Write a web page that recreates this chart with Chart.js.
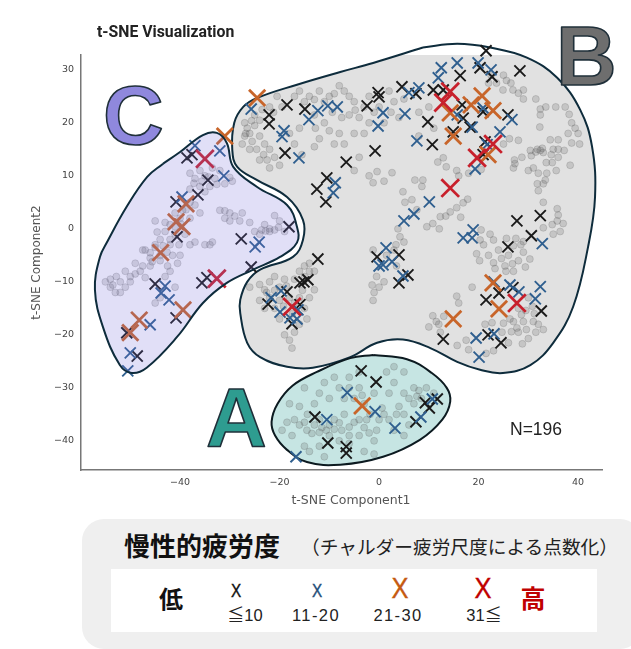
<!DOCTYPE html>
<html lang="ja">
<head>
<meta charset="utf-8">
<title>t-SNE Visualization</title>
<script src="https://cdn.jsdelivr.net/npm/chart.js@4"></script>
<style>
  html, body { margin: 0; padding: 0; background: #fff; }
  #wrap { position: relative; width: 631px; height: 649px; overflow: hidden; }
  #wrap > div { position: absolute; white-space: nowrap; }
  canvas { position: absolute; left: 0; top: 0; }
  .t { transform: translate(-50%, -50%); font-family: "Liberation Sans", sans-serif; }
  .mark { transform: translate(-50%, -50%) scaleX(0.85); font-family: "Liberation Sans", sans-serif; -webkit-text-stroke: 0.4px currentColor; line-height: 1; }
  .jp { font-family: "Noto Sans CJK JP", sans-serif; }
  .le { font-family: "Noto Sans CJK JP", sans-serif; font-size: 17px; }
</style>
</head>
<body>
<div id="wrap">
  <canvas id="c" width="631" height="649"></canvas>
  <div style="left:97px;top:22px;font:700 15.8px/20px Roboto,sans-serif;color:#222">t-SNE Visualization</div>
  <div style="left:82px;top:519px;width:560px;height:130px;background:#efefef;border-radius:22px"></div>
  <div style="left:111px;top:569px;width:486px;height:63px;background:#fff"></div>
  <div class="jp" style="left:124px;top:526px;font-size:26px;font-weight:700;line-height:38px;color:#111">慢性的疲労度</div>
  <div class="jp" style="left:301px;top:533px;font-size:18.7px;line-height:26px;color:#222">（チャルダー疲労尺度による点数化）</div>
  <div class="t jp" style="left:171px;top:597px;font-size:24px;font-weight:700;color:#111">低</div>
  <div class="t jp" style="left:533px;top:597px;font-size:25px;font-weight:700;color:#c00000">高</div>
  <div class="mark" style="left:235.5px;top:591px;font-size:18px;color:#111">X</div>
  <div class="mark" style="left:317px;top:591px;font-size:18px;color:#1f4e79">X</div>
  <div class="mark" style="left:400px;top:588px;font-size:30px;color:#c55a11">X</div>
  <div class="mark" style="left:482.5px;top:588px;font-size:30px;color:#c00000">X</div>
  <div class="t" style="left:245px;top:613px;font-size:16.5px;color:#222"><span class="le">≦</span>10</div>
  <div class="t" style="left:316px;top:615px;font-size:16.5px;letter-spacing:1.4px;color:#222">11-20</div>
  <div class="t" style="left:398px;top:615px;font-size:16.5px;letter-spacing:1.4px;color:#222">21-30</div>
  <div class="t" style="left:484px;top:613px;font-size:16.5px;color:#222">31<span class="le">≦</span></div>
</div>
<script>
const xTicks = [-40, -20, 0, 20, 40];
const yTicks = [-40, -30, -20, -10, 0, 10, 20, 30];

// chronic fatigue score groups
const black = [[-18.5,23.4],[-14.9,22.6],[-22.1,21.5],[-22.1,19.8],[-18.9,14.3],[-6.6,12.6],[-10.5,9.6],[-12.5,7.5],[-10.7,5.1],[-18.1,0.4],[-27.7,-1.9],[-34.4,9.2],[-36.4,6.4],[-40.8,5.1],[-40.6,-1.5],[-38.6,13.4],[-37.6,14],[-45,-10.4],[-35.6,-10.2],[-34.6,-9.2],[-40.8,-16.8],[-50.7,-19.6],[-48.6,-24],[-25.7,-7.2],[-12.3,-5.7],[-14.3,-9.6],[-15.9,-10.2],[-15.1,-10],[-18.5,-11.9],[-22.3,-14.2],[-15.9,-14.3],[-17.5,-17.9],[-12.9,-35.5],[-10.3,-40.4],[-6.6,-41.1],[-6.6,-42.3],[21.5,33.6],[20.3,30.4],[16.3,28.9],[22.7,28.7],[28.3,29.8],[4.6,26.8],[-0.2,25.7],[0,24.9],[-2.4,23.2],[7.4,25.5],[10.9,26.2],[12.9,26.2],[16.7,23.4],[20.9,22.1],[25.9,21.5],[9.8,20.2],[16.9,20.9],[18.3,19.2],[14.9,18.3],[10.7,15.9],[-0.8,14.7],[21.3,16.4],[20.9,14],[27.7,1.5],[32.4,2.5],[30.6,-1.3],[25.9,-3.4],[-0.4,-5.3],[4,-4.9],[5.8,-8.7],[4,-10.2],[21.5,-13.4],[24.1,-12.1],[26.9,-11.1],[32.6,-15.5],[21.9,-20],[24.5,-21.5],[12.9,-20.8],[-3.6,-26.8],[-0.6,-28.9],[9.3,-32.8],[10.1,-33.8],[11.7,-32.1],[7.4,-36.4]];
const blue = [[-25.7,22.6],[-8.4,23],[-10.3,23.2],[-12.3,22.3],[-14.1,20.6],[-19.1,18.5],[-19.5,17.4],[-16.1,13.4],[-8.8,8.7],[-9.2,6.8],[-31.2,10],[-32,14.7],[-37,15.7],[-39.6,6],[-24.1,-2.5],[-24.9,-3.4],[-43,-10.8],[-43.8,-12.1],[-42.2,-13.4],[-46,-18.1],[-50,-23.4],[-50.5,-26.8],[-19.7,-11.7],[-21.7,-13],[-19.9,-15.7],[-16.3,-15.3],[-16.5,-17],[-17.9,-16.8],[-16.7,-43],[-10.5,-36],[-6.4,-30.9],[12.5,30.4],[15.7,31.3],[11.9,28.5],[19.9,31.3],[22.5,30],[8,26.6],[6,25.7],[0.8,21.9],[-0.2,19.4],[5.2,21.7],[7.6,16.6],[26.7,20.6],[24.3,18.3],[20.9,22.8],[18.7,19.2],[15.7,21.5],[21.7,15.9],[19.3,11.3],[10.1,5.1],[7,2.8],[5,1.5],[18.9,-0.2],[16.9,-1.7],[18.7,-1.7],[32.8,-2.8],[1.4,-3.6],[0,-7],[0.8,-6.8],[2.6,-6.2],[4.8,-8.9],[23.1,-10],[26.3,-10.6],[28.1,-11.9],[31.4,-13.2],[32.4,-10.9],[19.5,-20.6],[23.1,-19.8],[20.1,-24.2],[-0.8,-34.5],[3.2,-37.6],[8.4,-35.5],[10.7,-32.1]];
const orange = [[-24.5,24.7],[-31,17.5],[-38.8,4.7],[-40.8,1.3],[-39.6,0.4],[-43.9,-4.5],[-48.2,-17.2],[-50,-19.6],[-39.4,-15.3],[14.3,21.9],[18.5,23.4],[20.7,25.1],[22.9,22.3],[14.9,17.5],[21.9,14],[22.9,-10.2],[24.1,-15.1],[14.9,-17],[-3.4,-33.4]];
const red = [[-35,13.2],[-32.6,-9.4],[-17.5,-14.7],[14.3,25.9],[12.9,23.8],[22.9,16],[19.7,13.4],[14.3,7.7],[27.7,-14]];

// all participants, faint background points
const others = [
  [-38,10.5],[-37,9.5],[-36,11],[-35,10],[-34,8],[-33,9.5],[-32,11],[-31,8.5],[-30,9.7],[-29.5,9],[-36,8],[-38,7.5],[-33.5,11.5],[-35,7],[-37.2,8.6],[-35.6,9],[-34.3,9.8],[-32.6,8.4],
  [-38,5],[-39.5,3.5],[-41,3],[-40,2],[-42,0.8],[-43,-0.5],[-41,-1],[-44,-2],[-45,1.5],[-43,1.2],[-42,-2],[-39,-1],[-38,2],[-37,4.5],[-36,3],[-45,-3],[-47,-4],[-46,-5.5],[-44,-6],[-44.6,-0.6],[-43.4,-3.2],[-42.6,-4.4],[-41,0.4],[-39.8,0.9],[-38.8,3.6],[-40.2,-3],
  [-47.5,-4],[-46,-4.5],[-45,-3.5],[-44,-5],[-47.5,-7],[-49,-8.5],[-50,-9],[-51,-8],[-52,-10],[-54,-9.5],[-55,-10],[-54,-11],[-53,-12],[-52,-12],[-50,-10],[-46,-7],[-49,-6.5],[-42,-3],[-41.5,-5],[-40,-5],[-42,-8],[-43,-9],[-42.5,-7],[-40.5,-6.5],[-38,-3],[-37,-2.5],[-35,-3],[-34,-3],[-33.5,-2.5],[-45,-14],[-44,-13],[-41,-11],[-53.5,-10.6],[-52.8,-9],[-51,-11],[-48,-8],[-47,-9.2],[-45.6,-6.2],
  [-32,3.5],[-31,2],[-30,1.5],[-29,2.4],[-28,1.5],[-27.5,3],[-26,1.2],[-25,-0.5],[-24,-1],[-23,0.8],[-22,0],[-21,-0.2],[-20,1.5],[-21,2.5],[-22,-0.5],[-19,-0.5],[-30,3],[-22.8,-0.4],[-20.2,0.3],[-23.6,-0.2],[-31,3.4],
  [-27,20],[-26.5,19],[-27,17.5],[-26,18],[-25,19.5],[-25.5,16.5],[-26,15],[-24,17.5],[-24,20.5],[-23,16],[-22,15],[-22.5,13],[-21,13.5],[-20,12],[-22,11.5],[-24,13],[-25,21.5],[-23.5,22.5],[-22,23],[-20.5,25],[-19.5,23],[-17,25],[-16,26],[-14,25],[-12,26],[-10,25],[-9,25.5],[-8,27],[-7,26],[-6,25],[-5,24],[-3,23],[-13,21.5],[-11,20],[-10,18.5],[-12,17],[-13,15.5],[-8,18],[-7,16],[-5,18],[-15.5,14],[-17,16],[-18,18],[-16,19],[-4,21],[-3,18],[-6,21.5],[-1,22],[1,20],[-2,25],[3,24],[2,26],[5,24.5],[-4,13.5],[-5,11],[-2,10],[-26.8,18],[-25.6,20.4],[-27.5,16],[-24.6,15],[-23.2,14],[-21.2,22],[-15,24],[-13,24.4],[-11,24],[-9.4,22],[-7.5,21],[-4.8,22.4],[-2,20],[0,23],[-12.8,19],[-9,16],[2.4,22],[4,21],[8,22],[10,23],[11,19],[8,17.5],
  [-1.2,8.7],[-0.4,10.8],[1,9],[2.6,10.6],[4.8,7],[7.2,9.2],[8.8,9.2],[8.6,8],[6.6,5.5],[12.3,2.3],[14.3,3.2],[16.9,4.9],[17.8,5.6],[9.6,0.4],[12.1,0],[4.2,-1.5],[5,-2.5],[3.4,-3],[-1.2,-4],[12.9,13.4],[11.8,12.6],[13.5,11.7],[15.6,11],[16,10],[18,10.5],[20.5,11.2],[5.2,5],[7.6,3.6],[10.8,1],[13.4,2.4],[15.6,4],[3.8,0],[16.4,2.2],
  [22.5,29],[22,27.5],[24.9,26.2],[26.9,26.2],[29,26.2],[26.5,27.5],[25.6,28],[29,24.5],[31.5,24.5],[33.5,23],[35.5,23],[32.4,21.5],[32.3,19.2],[37.4,23],[38.7,20],[40,18],[40.3,16],[38,18],[36,16.8],[34.4,16.8],[38.7,16.2],[37.2,14.8],[36,13.5],[34.8,12.5],[33.7,10.5],[33.6,12.5],[32.4,14.8],[31.5,14.5],[30.4,14.8],[28.7,13.5],[28,16.7],[26.2,17],[27.3,12.3],[30,11],[31,11.5],[32,10.5],[33,8.5],[31.8,8.5],[32,7.2],[38.4,12],[31.8,15],[32.8,15.2],[35,15],[35.6,11],[27,11.5],[23.6,27.5],[25,29],[28,25.6],[32.4,22.6],[38.2,21.6],[39.4,19],[33,14.4],[30.6,13.8],[33.4,9.2],[34.6,14],[36,15],[27.2,13],[25,16],
  [33,5],[35.8,3.8],[35.8,1.5],[37,1],[36.4,-0.5],[35,-1],[33,0.2],[20.5,-0.2],[22.3,-1],[25.6,-1.8],[27.5,-1.8],[21,-3],[27,-3.2],[34.8,0.8],[36,2.6],[29,-2.4],
  [20.3,-2.1],[23,-2.1],[28.5,-3],[29,-4.4],[30.3,-5.7],[28,-6],[25.3,-7],[19.6,-4.7],[20.2,-6],[26,-5],[27,-8],[22,-5],[24,-4],[24.6,-5.6],[26.8,-6.6],[29.4,-7.2],[23,-6.4],
  [18.7,-11],[15.6,-12.7],[16,-14],[13,-16.5],[10,-18.5],[11.5,-17.5],[12.3,-19.5],[15.7,-22],[17.5,-21],[18,-22.8],[21.3,-18],[22.7,-17.7],[24.7,-19.5],[26,-21.5],[27,-17.5],[29,-17.5],[31,-17.5],[33,-19],[31.5,-19.5],[30,-20.7],[28.8,-21.7],[27.7,-18.7],[21.5,-23.5],[23,-23],[29.5,-15.4],[31.2,-16],[26.3,-17],[23.3,-7.5],[25.5,-8],[28,-15],[30,-13],[28,-19.5],[26.6,-19.4],[29.6,-19],[32,-18],[25,-17.8],[28.6,-16.2],[30.8,-14.6],[12,-18],[10.8,-16.4],
  [-14,-6.5],[-15,-7],[-16,-8],[-14,-8],[-13,-8],[-15,-9],[-17,-9.5],[-19,-9.5],[-21,-9],[-22,-10],[-24,-10.5],[-26,-11],[-23,-11.5],[-20,-11],[-22,-13],[-24,-13.5],[-23,-15],[-21,-15],[-20,-13.5],[-18,-13],[-17,-14],[-16,-13],[-15,-15],[-14.5,-17],[-16,-18],[-17,-19.5],[-18,-21],[-17.5,-22.5],[-19,-20],[-14,-13],[-13,-11.5],[-21,-11.6],[-18.6,-10.8],[-22.6,-12],[-19.2,-14.6],[-17.4,-16],[-20,-17],[-15.4,-11.6],
  [-0.5,-9],[1,-10],[0,-11],[1.5,-5],[3,-4],[-1,-12],[-1.2,-13.5],[-1.4,-10.6],[3.5,-7],
  [-19.5,-38],[-18.5,-36.5],[-17,-36],[-16,-37],[-14.5,-38],[-15,-36.5],[-13,-37],[-12,-36],[-11.5,-37.5],[-10,-37],[-9,-36],[-7.5,-38],[-6,-39],[-4,-39],[-3,-37.5],[-2,-38.5],[-1,-40],[-0.5,-38],[-5,-36.5],[-7,-35],[-18,-33],[-13,-33],[-12,-31],[-10,-32],[-8,-30],[-9,-28],[-6,-28],[-4,-30],[-5,-32],[-3,-33],[-1,-31],[-7,-32],[-14,-42],[-15,-41],[-12,-41],[-10,-39],[-16,-33.5],[-17.5,-39],[1.5,-27],[3,-26],[5,-27],[3,-29],[2,-31],[5,-31],[6,-32],[7,-30],[8,-30.5],[8.5,-32],[7,-33],[4,-33.5],[1,-35],[2,-36],[3.5,-35],[5,-35],[6,-37],[3,-38],[0,-36],[-2.5,-36],[-3,-42],[5,-39],[-1,-42.5],[-6,-40.5],[-8,-40],[-11,-43],[9.5,-30],[11,-31],[-4,-27],[-11,-29],[-15,-30],[-13.5,-38.6],[-12,-38.4],[-10.6,-38],[-9,-37.8],[-8,-36.6],[-6,-37.4],[-4,-36],[-14.4,-35],[-1.8,-35],[0.6,-33.8],[7.6,-31.6],[-3.4,-31.4],[-6,-30]
];

// hand drawn cluster outlines, in axis units
const regionA = [[-1.2,-23.8],[5.6,-24.6],[10.6,-27.2],[13.6,-30],[14.3,-32.6],[12.7,-36],[8.2,-39.8],[0.8,-43],[-7.8,-44.5],[-14.5,-44],[-18.5,-41.7],[-20.9,-39],[-21.6,-36.4],[-20.4,-33],[-17.4,-29.6],[-12.5,-27],[-5.8,-24.4],[-1.2,-23.8]];
const regionB = [[8.8,34.2],[15.7,34.9],[22.3,34.2],[29.7,32.3],[35.8,28.5],[40.4,22.5],[42.8,15.5],[43.4,6],[42,-3.4],[39,-14.7],[35,-21.5],[30.4,-25.7],[24.9,-27.2],[20.3,-26.6],[15.7,-25.1],[10.3,-22.5],[4.8,-20.9],[-0.4,-21.5],[-5.8,-24.2],[-13.3,-26.2],[-18.5,-26],[-23.9,-24.2],[-26.5,-21.5],[-27.9,-15.9],[-27.9,-13.4],[-26.5,-10],[-23.9,-7.7],[-17.3,-5.3],[-15.3,-2.1],[-15.3,1.7],[-18.5,6],[-24.5,9.2],[-28.5,11.7],[-29.5,14.9],[-29.1,20],[-27.3,23],[-24.5,24.7],[-16.5,27.2],[-7.8,29.6],[-1.2,31.3],[8.8,34.2]];
const regionC = [[-43.4,12.3],[-40,14.5],[-35.4,17.7],[-32.6,18.1],[-30.6,16.2],[-29.3,11.7],[-24.5,7.9],[-18.5,4.5],[-16.5,0.4],[-16.5,-2.6],[-19.9,-5.3],[-25.3,-7.7],[-30.6,-10.2],[-35.4,-14],[-40.6,-20.4],[-46.7,-26.2],[-49.7,-27.2],[-52.1,-25.7],[-55.5,-18.5],[-57.1,-11.5],[-56.1,-5.3],[-54.6,-2.4],[-50.7,4.2],[-46.6,9.8],[-43.4,12.3]];

const toXY = pts => pts.map(p => ({ x: p[0], y: p[1] }));

function crossSet(pts, color, radius, width, order) {
    return {
        data: toXY(pts),
        pointStyle: 'crossRot',
        pointRadius: radius,
        pointBorderColor: color,
        pointBorderWidth: width,
        showLine: false,
        clip: false,
        order: order
    };
}

function regionSet(pts, fill, stroke, order) {
    return {
        type: 'line',
        data: toXY(pts),
        fill: 'shape',
        backgroundColor: fill,
        borderColor: stroke,
        borderWidth: 2,
        tension: 0.4,
        capBezierPoints: false,
        pointRadius: 0,
        clip: false,
        order: order
    };
}

// big cluster letters, N and the x axis caption
const overlay = {
    id: 'overlay',
    afterDatasetsDraw(chart) {
        const ctx = chart.ctx;
        ctx.save();
        ctx.textBaseline = 'alphabetic';
        ctx.textAlign = 'left';
        ctx.lineJoin = 'round';
        ctx.font = 'bold 84px "Liberation Sans"';
        ctx.lineWidth = 1.6;
        ctx.strokeStyle = '#20303a';
        [['A', 206, 447, '#2e9c90'], ['B', 556, 85, '#6e6e6e'], ['C', 103, 144, '#8f88dd']].forEach(l => {
            ctx.fillStyle = l[3];
            ctx.fillText(l[0], l[1], l[2]);
            ctx.strokeText(l[0], l[1], l[2]);
        });
        ctx.font = '17.5px "Liberation Sans"';
        ctx.fillStyle = '#222';
        ctx.fillText('N=196', 510, 435);
        ctx.font = '12.5px "DejaVu Sans"';
        ctx.fillStyle = '#555';
        ctx.textAlign = 'center';
        ctx.fillText('t-SNE Component1', 351, 504);
        ctx.restore();
    }
};

new Chart(document.getElementById('c'), {
    type: 'scatter',
    data: {
        datasets: [
            // the lavender patch lies over its own marks in the original
            regionSet(regionC, 'rgba(120,110,220,0.22)', '#0e2c3c', -1),
            crossSet(red, '#c8202c', 12.5, 2.8, 0),
            crossSet(orange, '#c8652a', 11.5, 2.8, 1),
            crossSet(blue, '#2f5f8f', 7.8, 1.9, 2),
            crossSet(black, '#1a1a1a', 7.8, 1.9, 3),
            {
                data: toXY(others),
                pointRadius: 3.5,
                pointBackgroundColor: 'rgba(85,85,85,0.2)',
                pointBorderColor: 'rgba(85,85,85,0.2)',
                pointBorderWidth: 1,
                showLine: false,
                order: 4
            },
            regionSet(regionA, '#c6e5e3', '#0c1a20', 5),
            regionSet(regionB, '#e1e1e1', '#0e2c3c', 7)
        ]
    },
    options: {
        responsive: false,
        animation: false,
        layout: { padding: { left: 30, right: 29, top: 55, bottom: 139 } },
        plugins: { legend: { display: false }, tooltip: { enabled: false } },
        scales: {
            x: {
                type: 'linear',
                min: -59.9,
                max: 44.8,
                grid: { display: false, tickLength: 4, tickColor: '#777' },
                border: { color: '#777', width: 1.5 },
                ticks: {
                    color: '#444',
                    font: { family: 'DejaVu Sans', size: 9.5 },
                    padding: 3,
                    maxRotation: 0,
                    callback: v => String(v).replace('-', '\u2212')
                },
                afterBuildTicks: s => { s.ticks = xTicks.map(v => ({ value: v })); },
                afterFit: s => { s.height = 40; }
            },
            y: {
                type: 'linear',
                min: -45.5,
                max: 32.8,
                grid: { display: false, tickLength: 4, tickColor: '#777' },
                border: { color: '#777', width: 1.5 },
                title: {
                    display: true,
                    text: 't-SNE Component2',
                    color: '#555',
                    font: { family: 'DejaVu Sans', size: 12 },
                    padding: 0
                },
                ticks: {
                    color: '#444',
                    font: { family: 'DejaVu Sans', size: 9.5 },
                    padding: 3,
                    callback: v => String(v).replace('-', '\u2212')
                },
                afterBuildTicks: s => { s.ticks = yTicks.map(v => ({ value: v })); },
                afterFit: s => { s.width = 51; }
            }
        }
    },
    plugins: [overlay]
});
</script>
</body>
</html>
